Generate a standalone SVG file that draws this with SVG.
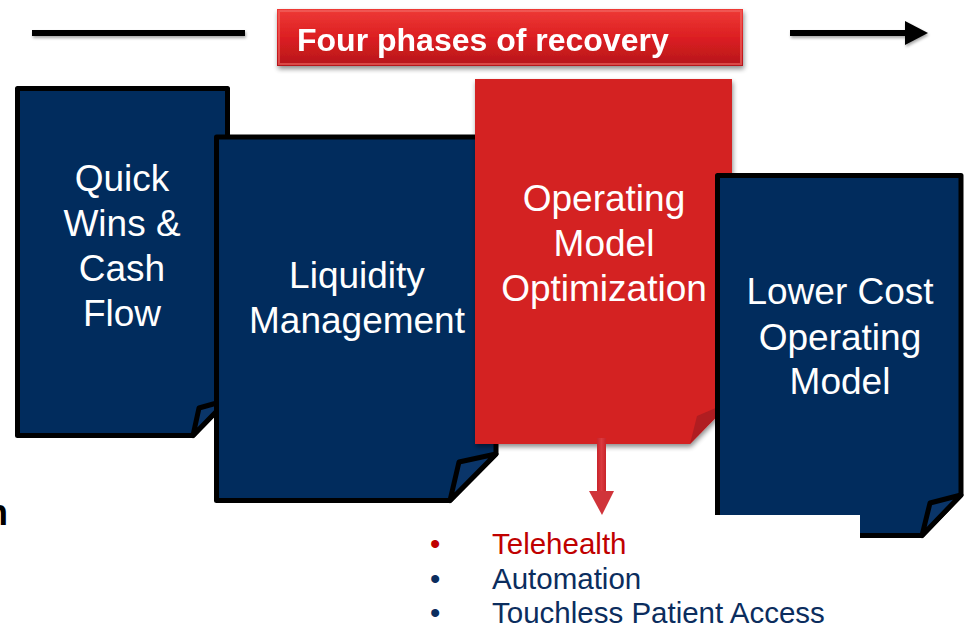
<svg xmlns="http://www.w3.org/2000/svg" width="964" height="627" viewBox="0 0 964 627">
  <defs>
    <linearGradient id="bannerGrad" x1="0" y1="0" x2="0" y2="1">
      <stop offset="0" stop-color="#EE3A36"/>
      <stop offset="0.5" stop-color="#DC1F22"/>
      <stop offset="1" stop-color="#B5161A"/>
    </linearGradient>
    <linearGradient id="arrowGrad" x1="0" y1="0" x2="1" y2="0">
      <stop offset="0" stop-color="#C9242A"/>
      <stop offset="0.5" stop-color="#DA3A3F"/>
      <stop offset="1" stop-color="#C9242A"/>
    </linearGradient>
    <filter id="shadow" x="-10%" y="-10%" width="125%" height="130%">
      <feGaussianBlur in="SourceAlpha" stdDeviation="2.5"/>
      <feOffset dx="1" dy="3" result="b"/>
      <feComponentTransfer><feFuncA type="linear" slope="0.45"/></feComponentTransfer>
      <feMerge><feMergeNode/><feMergeNode in="SourceGraphic"/></feMerge>
    </filter>
    <filter id="lineShadow" x="-5%" y="-100%" width="110%" height="300%">
      <feGaussianBlur in="SourceAlpha" stdDeviation="1.5"/>
      <feOffset dx="1" dy="2"/>
      <feComponentTransfer><feFuncA type="linear" slope="0.35"/></feComponentTransfer>
      <feMerge><feMergeNode/><feMergeNode in="SourceGraphic"/></feMerge>
    </filter>
  </defs>
  <style>
    .navy { fill: #012C5D; stroke: #000; stroke-width: 5; stroke-linejoin: round; }
    .flap { fill: #0A3569; stroke: #000; stroke-width: 5; stroke-linejoin: round; }
    .box-text { font-family: "Liberation Sans", Arial, sans-serif; font-size: 37px; fill: #FFFFFF; text-anchor: middle; }
    .banner-text { font-family: "Liberation Sans", Arial, sans-serif; font-size: 32px; font-weight: bold; fill: #FFFFFF; }
    .bullet { font-family: "Liberation Sans", Arial, sans-serif; font-size: 29.5px; }
  </style>
  <rect width="964" height="627" fill="#FFFFFF"/>

  <text x="-14" y="525" font-family="Liberation Sans, Arial, sans-serif" font-size="36" font-weight="bold" fill="#000">n</text>

  <g id="connectors">
    <rect x="32" y="30" width="213" height="6" fill="#000" filter="url(#lineShadow)"/>
    <g filter="url(#lineShadow)">
      <rect x="790" y="30" width="118" height="6" fill="#000"/>
      <polygon points="905,21 928,33 905,45" fill="#000"/>
    </g>
  </g>

  <g id="banner" filter="url(#shadow)">
    <rect x="277" y="9" width="466" height="57" fill="url(#bannerGrad)"/>
    <rect x="279" y="11" width="462" height="53" fill="none" stroke="#F26B66" stroke-width="2" opacity="0.6"/>
    <text class="banner-text" x="297" y="51">Four phases of recovery</text>
  </g>

  <g id="node-quick-wins">
    <path class="navy" d="M17.5,88.5 H227.5 V400 L193,435.5 H17.5 Z"/>
    <path class="flap" d="M193,435.5 L199,408 L227.5,400 Z"/>
    <text class="box-text" x="122" y="191">Quick</text>
    <text class="box-text" x="122" y="236">Wins &amp;</text>
    <text class="box-text" x="122" y="281">Cash</text>
    <text class="box-text" x="122" y="326">Flow</text>
  </g>

  <g id="node-liquidity">
    <path class="navy" d="M216.5,137 H496 V454 L450,500.5 H216.5 Z"/>
    <path class="flap" d="M450,500.5 L459,462 L496,454 Z"/>
    <text class="box-text" x="357" y="288">Liquidity</text>
    <text class="box-text" x="357" y="333">Management</text>
  </g>

  <g id="node-operating-model">
    <path d="M475,79 H732 V401 L690,444 H475 Z" fill="#D42324" filter="url(#shadow)"/>
    <path d="M690,444 L697,416 L732,401 Z" fill="#B01D21"/>
    <text class="box-text" x="604" y="211">Operating</text>
    <text class="box-text" x="604" y="256">Model</text>
    <text class="box-text" x="604" y="301">Optimization</text>
  </g>

  <g id="connector-down">
    <rect x="597" y="438" width="9" height="54" fill="url(#arrowGrad)"/>
    <polygon points="589,491 614,491 602,515" fill="#D0343A"/>
  </g>

  <g id="node-lower-cost">
    <path class="navy" d="M717.5,175.5 H961 V495 L922,535.5 H717.5 Z"/>
    <path class="flap" d="M922,535.5 L930,503 L961,495 Z"/>
    <rect x="712" y="515" width="148" height="30" fill="#FFFFFF"/>
    <text class="box-text" x="840" y="304">Lower Cost</text>
    <text class="box-text" x="840" y="350">Operating</text>
    <text class="box-text" x="840" y="394">Model</text>
  </g>

  <g id="bullets">
    <text class="bullet" x="430" y="554" fill="#C00000">•</text>
    <text class="bullet" x="492" y="554" fill="#C00000">Telehealth</text>
    <text class="bullet" x="430" y="589" fill="#0B2D5E">•</text>
    <text class="bullet" x="492" y="589" fill="#0B2D5E">Automation</text>
    <text class="bullet" x="430" y="623" fill="#0B2D5E">•</text>
    <text class="bullet" x="492" y="623" fill="#0B2D5E">Touchless Patient Access</text>
  </g>
</svg>
